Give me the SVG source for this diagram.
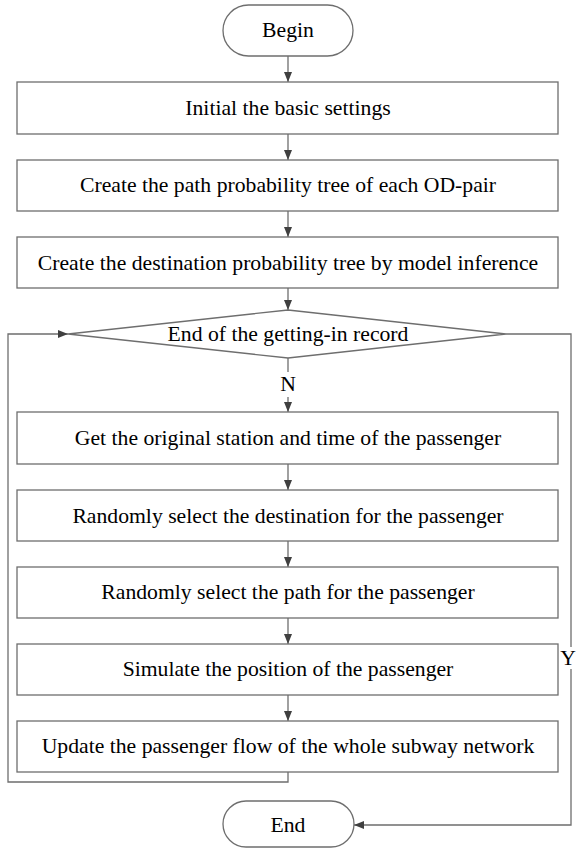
<svg xmlns="http://www.w3.org/2000/svg" width="576" height="848" viewBox="0 0 576 848">
<style>
.n{fill:#fff;stroke:#6e6e6e;stroke-width:1.3}
.c{fill:none;stroke:#6e6e6e;stroke-width:1.3}
</style>
<defs>
<marker id="a" viewBox="0 0 10 10" refX="10" refY="5" markerWidth="10" markerHeight="10" markerUnits="userSpaceOnUse" orient="auto">
<path d="M0,1 L10,5 L0,9 Z" fill="#404040"/>
</marker>
</defs>
<rect width="576" height="848" fill="#fff"/>
<g id="connectors">
<line class="c" x1="288" y1="56" x2="288" y2="82" marker-end="url(#a)"/>
<line class="c" x1="288" y1="134" x2="288" y2="160" marker-end="url(#a)"/>
<line class="c" x1="288" y1="211" x2="288" y2="237" marker-end="url(#a)"/>
<line class="c" x1="288" y1="288" x2="288" y2="310" marker-end="url(#a)"/>
<line class="c" x1="288" y1="358" x2="288" y2="372"/>
<line class="c" x1="288" y1="397" x2="288" y2="412" marker-end="url(#a)"/>
<line class="c" x1="288" y1="464" x2="288" y2="490" marker-end="url(#a)"/>
<line class="c" x1="288" y1="541" x2="288" y2="567" marker-end="url(#a)"/>
<line class="c" x1="288" y1="618" x2="288" y2="644" marker-end="url(#a)"/>
<line class="c" x1="288" y1="695" x2="288" y2="721" marker-end="url(#a)"/>
<polyline class="c" points="288,772 288,782 8,782 8,334 68,334" marker-end="url(#a)"/>
<polyline class="c" points="506,334 571,334 571,647"/>
<polyline class="c" points="571,669 571,825 354,825" marker-end="url(#a)"/>
<text x="288" y="391" font-family="Liberation Serif" font-size="21.7" text-anchor="middle">N</text>
<text x="568" y="665" font-family="Liberation Serif" font-size="21.7" text-anchor="middle">Y</text>
</g>
<g id="begin"><rect class="n" x="223" y="5" width="130" height="51" rx="25.5"/><text x="288" y="37" font-family="Liberation Serif" font-size="21.7" text-anchor="middle">Begin</text></g>
<g id="init"><rect class="n" x="17" y="82" width="541" height="52"/><text x="288" y="115" font-family="Liberation Serif" font-size="21.7" text-anchor="middle">Initial the basic settings</text></g>
<g id="pathtree"><rect class="n" x="17" y="160" width="541" height="51"/><text x="288" y="192" font-family="Liberation Serif" font-size="21.7" text-anchor="middle">Create the path probability tree of each OD-pair</text></g>
<g id="desttree"><rect class="n" x="17" y="237" width="541" height="51"/><text x="288" y="270" font-family="Liberation Serif" font-size="21.7" text-anchor="middle">Create the destination probability tree by model inference</text></g>
<g id="decision"><polygon class="n" points="288,310 506,334 288,358 68,334"/><text x="288" y="341" font-family="Liberation Serif" font-size="21.7" text-anchor="middle">End of the getting-in record</text></g>
<g id="getorig"><rect class="n" x="17" y="412" width="541" height="52"/><text x="288" y="445" font-family="Liberation Serif" font-size="21.7" text-anchor="middle">Get the original station and time of the passenger</text></g>
<g id="seldest"><rect class="n" x="17" y="490" width="541" height="51"/><text x="288" y="523" font-family="Liberation Serif" font-size="21.7" text-anchor="middle">Randomly select the destination for the passenger</text></g>
<g id="selpath"><rect class="n" x="17" y="567" width="541" height="51"/><text x="288" y="599" font-family="Liberation Serif" font-size="21.7" text-anchor="middle">Randomly select the path for the passenger</text></g>
<g id="simulate"><rect class="n" x="17" y="644" width="541" height="51"/><text x="288" y="676" font-family="Liberation Serif" font-size="21.7" text-anchor="middle">Simulate the position of the passenger</text></g>
<g id="update"><rect class="n" x="17" y="721" width="541" height="51"/><text x="288" y="753" font-family="Liberation Serif" font-size="21.7" text-anchor="middle">Update the passenger flow of the whole subway network</text></g>
<g id="end"><rect class="n" x="223" y="801" width="131" height="46" rx="23"/><text x="288" y="832" font-family="Liberation Serif" font-size="21.7" text-anchor="middle">End</text></g>
</svg>
